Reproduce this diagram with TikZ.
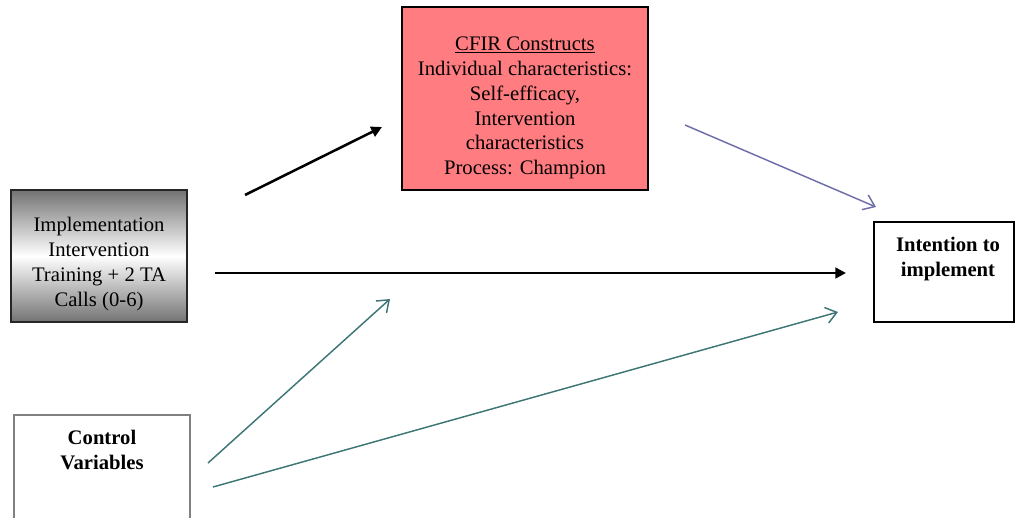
\documentclass[tikz,border=0pt]{standalone}
\usepackage{fontspec}
\setmainfont{Liberation Serif}
\usetikzlibrary{arrows.meta}
\definecolor{cfirred}{HTML}{FF7C80}
\definecolor{purp}{HTML}{6E6EAA}
\definecolor{teal2}{HTML}{3E7676}
\tikzset{
  txt/.style={align=center,font=\fontsize{15.5}{18.6}\selectfont,inner sep=0pt},
  boxx/.style={draw,line width=1.5pt,inner sep=0pt},
  blackarr/.style={line width=1.9pt,-{Triangle[length=8pt,width=8pt]}},
  purparr/.style={draw=purp,line width=1.1pt,-{Straight Barb[length=8pt,width=12pt,line width=1.1pt]}},
  tealarr/.style={draw=teal2,line width=1.1pt,-{Straight Barb[length=8pt,width=12pt,line width=1.1pt]}},
}
\begin{document}
\begin{tikzpicture}[x=0.75pt,y=-0.75pt]
\useasboundingbox (0,0) rectangle (1016,517);
% boxes
\node[boxx,draw=black!85,minimum width=132pt,minimum height=99pt,
  top color=black!55,bottom color=black!55,middle color=white] (impl) at (99,256) {};
\node[txt] (impltxt) at (99,264) {Implementation\\Intervention\\Training + 2 TA\\Calls (0-6)};
\node[boxx,fill=cfirred,minimum width=184.5pt,minimum height=137pt] (cfir) at (525,98.5) {};
\node[txt] (cfirtxt) at (525,108) {\underline{CFIR Constructs}\\Individual characteristics:\\Self-efficacy,\\Intervention\\characteristics\\Process: Champion};
\node[boxx,minimum width=105pt,minimum height=75pt] (intent) at (944,272) {};
\node[txt,font=\fontsize{15.5}{18.6}\selectfont\bfseries] (intenttxt) at (948,259) {Intention to\\implement};
\node[boxx,draw=black!50,minimum width=132pt,minimum height=80pt] (ctrl) at (102,468) {};
\node[txt,font=\fontsize{15.5}{18.6}\selectfont\bfseries] (ctrltxt) at (102,450) {Control\\Variables};
% arrow ends
\coordinate (a1s) at (245,195); \coordinate (a1e) at (382,127);
\coordinate (a2s) at (685,125); \coordinate (a2e) at (876,207);
\coordinate (a3s) at (215,273); \coordinate (a3e) at (846,273);
\coordinate (a4s) at (208,463); \coordinate (a4e) at (390,299);
\coordinate (a5s) at (213,487); \coordinate (a5e) at (838,312);
\draw[blackarr] (a1s) -- (a1e);
\draw[purparr] (a2s) -- (a2e);
\draw[blackarr] (a3s) -- (a3e);
\draw[tealarr] (a4s) -- (a4e);
\draw[tealarr] (a5s) -- (a5e);
\end{tikzpicture}
\end{document}
